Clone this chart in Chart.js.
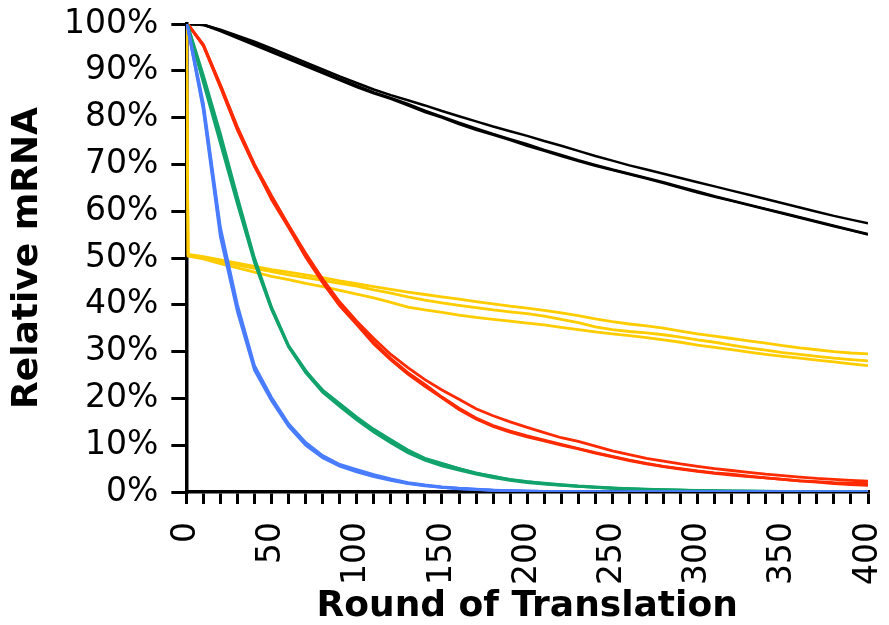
<!DOCTYPE html>
<html>
<head>
<meta charset="utf-8">
<script src="https://cdn.jsdelivr.net/npm/chart.js@4"></script>
<style>
  body { margin: 0; background: #fff; }
  #chart { display: block; }
</style>
</head>
<body>
<canvas id="chart" width="889" height="625"></canvas>
<script>
const rounds = [0, 1, 10, 20, 30, 40, 50, 60, 70, 80, 90, 100, 110, 120, 130, 140, 150, 160, 170, 180, 190, 200,
  210, 220, 230, 240, 250, 260, 270, 280, 290, 300, 310, 320, 330, 340, 350, 360, 370, 380, 390, 400];

// relative mRNA (%), three runs per colour
const blackA = [100, 100, 99.8, 98.8, 97.5, 96.2, 94.8, 93.3, 91.8, 90.3, 88.8, 87.4, 86.0, 84.8, 83.7, 82.6, 81.4, 80.3, 79.2, 78.1, 77.1, 76.1,
  75.0, 74.0, 72.9, 71.8, 70.8, 69.8, 68.9, 68.0, 67.1, 66.2, 65.3, 64.4, 63.5, 62.6, 61.7, 60.8, 59.9, 59.0, 58.2, 57.4];
const blackB = [100, 100, 99.8, 98.5, 97.0, 95.5, 94.0, 92.5, 91.0, 89.5, 88.0, 86.5, 85.2, 84.0, 82.6, 81.2, 80.0, 78.6, 77.4, 76.3, 75.2, 74.0,
  72.9, 71.8, 70.7, 69.7, 68.8, 67.9, 67.0, 66.0, 65.0, 64.0, 63.1, 62.2, 61.3, 60.4, 59.5, 58.6, 57.7, 56.8, 55.9, 55.0];
const blackC = [100, 100, 99.9, 98.7, 97.3, 95.8, 94.3, 92.8, 91.3, 89.8, 88.3, 86.8, 85.4, 84.2, 82.9, 81.5, 80.2, 78.9, 77.7, 76.5, 75.4, 74.3,
  73.1, 72.0, 70.9, 69.9, 68.9, 68.0, 67.1, 66.2, 65.2, 64.2, 63.2, 62.3, 61.4, 60.5, 59.6, 58.7, 57.8, 56.9, 56.0, 55.1];

const yellowA = [100, 50.8, 50.3, 49.6, 48.9, 48.2, 47.5, 47.0, 46.4, 45.8, 45.1, 44.5, 43.9, 43.3, 42.7, 42.2, 41.7, 41.2, 40.7, 40.2, 39.7, 39.3,
  38.8, 38.3, 37.7, 37.0, 36.4, 35.9, 35.5, 35.0, 34.4, 33.8, 33.3, 32.8, 32.3, 31.8, 31.3, 30.8, 30.4, 30.0, 29.7, 29.5];
const yellowB = [100, 50.6, 50.0, 49.3, 48.5, 47.8, 47.1, 46.4, 45.8, 45.2, 44.6, 44.0, 43.2, 42.5, 41.7, 41.0, 40.4, 39.9, 39.4, 38.9, 38.5, 38.1,
  37.6, 36.9, 36.2, 35.3, 34.7, 34.3, 34.0, 33.6, 33.1, 32.5, 32.0, 31.4, 30.8, 30.3, 29.8, 29.4, 29.0, 28.6, 28.3, 28.0];
const yellowC = [100, 50.4, 49.8, 48.8, 47.9, 47.0, 46.1, 45.4, 44.6, 43.9, 43.1, 42.3, 41.5, 40.5, 39.5, 38.9, 38.4, 37.8, 37.3, 36.9, 36.5, 36.1,
  35.7, 35.2, 34.7, 34.2, 33.8, 33.4, 33.0, 32.5, 32.0, 31.4, 30.9, 30.4, 29.9, 29.4, 29.0, 28.6, 28.2, 27.8, 27.4, 27.0];

const redA = [100, 99.9, 95.5, 87.0, 78.0, 70.0, 63.3, 57.0, 51.0, 45.5, 40.6, 36.5, 32.8, 29.4, 26.6, 24.0, 21.8, 19.8, 17.8, 16.3, 15.0, 13.8,
  12.7, 11.6, 10.8, 9.8, 8.8, 8.0, 7.2, 6.6, 6.0, 5.5, 5.0, 4.6, 4.2, 3.8, 3.5, 3.2, 2.9, 2.7, 2.5, 2.3];
const redB = [100, 99.9, 95.3, 86.5, 77.3, 69.5, 62.8, 56.8, 50.5, 45.0, 40.0, 36.2, 32.0, 28.5, 25.5, 23.0, 20.3, 17.9, 15.8, 14.2, 13.0, 12.0,
  11.1, 10.2, 9.3, 8.4, 7.6, 6.8, 6.1, 5.5, 5.0, 4.5, 4.1, 3.8, 3.4, 3.0, 2.7, 2.4, 2.1, 1.8, 1.6, 1.4];
const redC = [100, 99.9, 95.6, 86.8, 77.6, 69.8, 62.5, 56.5, 50.2, 44.7, 39.8, 35.8, 31.6, 28.2, 25.2, 22.6, 20.1, 17.6, 15.6, 14.0, 12.8, 11.8,
  10.9, 10.0, 9.2, 8.3, 7.5, 6.7, 6.0, 5.4, 4.9, 4.4, 4.0, 3.6, 3.3, 3.0, 2.7, 2.4, 2.2, 2.0, 1.9, 1.8];

const greenA = [100, 99.5, 89.0, 76.5, 63.0, 50.0, 39.5, 31.3, 26.0, 21.5, 18.8, 15.8, 13.1, 11.0, 8.8, 6.9, 6.0, 5.0, 4.0, 3.4, 2.6, 2.2,
  1.9, 1.6, 1.3, 1.1, 0.9, 0.7, 0.6, 0.5, 0.4, 0.35, 0.3, 0.25, 0.2, 0.18, 0.15, 0.12, 0.1, 0.1, 0.08, 0.07];
const greenB = [100, 99.3, 87.5, 74.5, 61.5, 49.0, 39.0, 31.0, 25.5, 21.3, 18.3, 15.4, 12.8, 10.5, 8.4, 6.8, 5.6, 4.7, 3.8, 3.1, 2.5, 2.0,
  1.7, 1.4, 1.2, 1.0, 0.8, 0.7, 0.55, 0.45, 0.4, 0.3, 0.25, 0.2, 0.18, 0.15, 0.12, 0.1, 0.08, 0.07, 0.06, 0.05];
const greenC = [100, 99.4, 88.2, 75.3, 62.2, 49.5, 39.2, 31.1, 25.8, 21.8, 18.9, 16.0, 13.4, 11.2, 9.0, 7.2, 6.1, 5.0, 4.1, 3.3, 2.7, 2.2,
  1.8, 1.5, 1.2, 1.0, 0.8, 0.65, 0.5, 0.45, 0.38, 0.3, 0.25, 0.2, 0.18, 0.15, 0.12, 0.1, 0.08, 0.07, 0.06, 0.05];

const blueA = [100, 99.0, 83.0, 56.5, 40.0, 27.0, 20.2, 14.6, 10.6, 7.8, 5.9, 4.8, 3.7, 2.8, 2.0, 1.5, 1.1, 0.8, 0.6, 0.4, 0.3, 0.2,
  0.15, 0.1, 0.08, 0.06, 0.05, 0.04, 0.03, 0.02, 0.02, 0.01, 0.01, 0.01, 0, 0, 0, 0, 0, 0, 0, 0];
const blueB = [100, 98.8, 81.5, 54.5, 38.5, 26.0, 19.5, 14.0, 10.0, 7.3, 5.5, 4.3, 3.3, 2.5, 1.8, 1.3, 1.0, 0.7, 0.5, 0.35, 0.25, 0.18,
  0.12, 0.09, 0.07, 0.05, 0.04, 0.03, 0.02, 0.02, 0.01, 0.01, 0, 0, 0, 0, 0, 0, 0, 0, 0, 0];
const blueC = [100, 98.9, 82.2, 55.5, 39.2, 26.5, 19.9, 14.3, 10.3, 7.5, 5.7, 4.5, 3.5, 2.6, 1.9, 1.4, 1.0, 0.75, 0.55, 0.38, 0.28, 0.2,
  0.14, 0.1, 0.07, 0.05, 0.04, 0.03, 0.02, 0.02, 0.01, 0.01, 0, 0, 0, 0, 0, 0, 0, 0, 0, 0];

const BLACK = "#000000";
const YELLOW = "#FFCC00";
const RED = "#FF2A00";
const GREEN = "#12A36C";
const BLUE = "#4A7CFF";

// blue drawn last (on top), black first
const series = [
  [blackA, BLACK, 5], [blackB, BLACK, 5], [blackC, BLACK, 5],
  [yellowA, YELLOW, 4], [yellowB, YELLOW, 4], [yellowC, YELLOW, 4],
  [redA, RED, 3], [redB, RED, 3], [redC, RED, 3],
  [greenA, GREEN, 2], [greenB, GREEN, 2], [greenC, GREEN, 2],
  [blueA, BLUE, 1], [blueB, BLUE, 1], [blueC, BLUE, 1]
];

const datasets = series.map(([vals, color, order]) => ({
  data: vals.map((v, i) => ({ x: rounds[i], y: v })),
  borderColor: color,
  backgroundColor: color,
  borderWidth: color === BLACK ? 2.5 : 2.8,
  pointRadius: 0,
  fill: false,
  tension: 0,
  order: order
}));

const tickFont = { family: "'DejaVu Sans', Verdana, sans-serif", size: 33 };
const titleFont = { family: "'DejaVu Sans', Verdana, sans-serif", size: 36, weight: "bold", lineHeight: 1 };

new Chart(document.getElementById("chart"), {
  type: "line",
  data: { datasets },
  options: {
    responsive: false,
    animation: false,
    layout: { padding: { left: 10, right: 21, top: 24, bottom: 0 } },
    plugins: {
      legend: { display: false },
      tooltip: { enabled: false }
    },
    scales: {
      x: {
        type: "linear",
        min: 0,
        max: 400,
        border: { color: BLACK, width: 3.5 },
        grid: { drawOnChartArea: false, drawTicks: true, tickLength: 12, color: BLACK, lineWidth: 3 },
        ticks: {
          stepSize: 10,
          autoSkip: false,
          maxRotation: 90,
          minRotation: 90,
          padding: 18,
          color: BLACK,
          font: tickFont,
          callback: v => (v % 50 === 0 ? v : "")
        },
        // rotated "400" would otherwise push the plot in from the right,
        // and the rotated labels reserve more room than they need
        afterFit: s => { s.paddingRight = 0; s.height -= 16; },
        title: { display: true, text: "Round of Translation", color: BLACK, font: titleFont, padding: { top: 2, bottom: 0 } }
      },
      y: {
        min: 0,
        max: 100,
        border: { color: BLACK, width: 3.5 },
        grid: { drawOnChartArea: false, drawTicks: true, tickLength: 15, color: BLACK, lineWidth: 3 },
        ticks: {
          stepSize: 10,
          padding: 13,
          color: BLACK,
          font: tickFont,
          callback: v => v + "%"
        },
        afterFit: s => { s.paddingTop = 0; s.paddingBottom = 0; },
        title: { display: true, text: "Relative mRNA", color: BLACK, font: titleFont, padding: { top: 0, bottom: 5 } }
      }
    }
  }
});
</script>
</body>
</html>
